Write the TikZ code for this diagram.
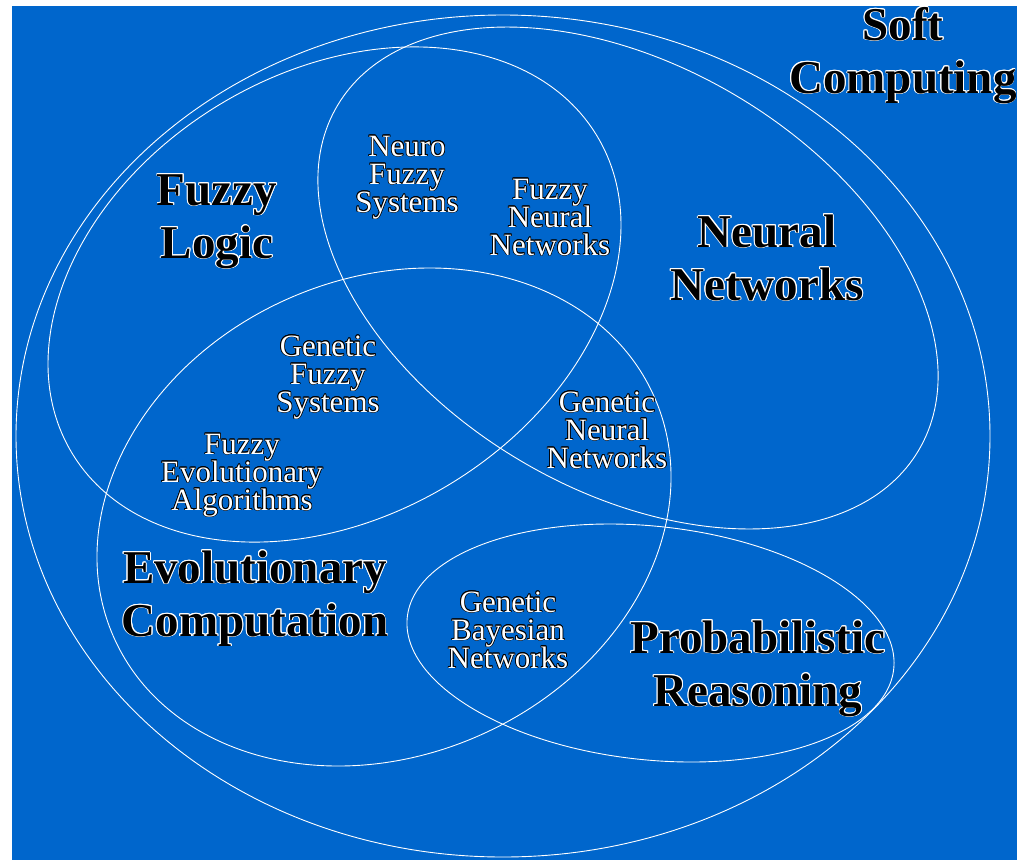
\documentclass[tikz,border=0pt]{standalone}
\usepackage{fontspec}
\setmainfont{Liberation Serif}
\usepackage{contour}
\contournumber{12}
\definecolor{bgblue}{HTML}{0066CC}
\newcommand{\BL}[1]{\smash{\contourlength{0.9pt}\contour{white}{#1}}}
\newcommand{\SL}[1]{\smash{\contourlength{0.7pt}\contour{black}{#1}}}
\newcommand{\Lines}[1]{\begin{tabular}[t]{@{}c@{}}#1\end{tabular}}
\begin{document}
\begin{tikzpicture}[x=1pt,y=-1pt,
  ring/.style={draw=white, line width=0.9pt},
  biglab/.style={font=\fontsize{47}{53}\selectfont\bfseries, text=black, inner sep=0pt, anchor=base},
  smalllab/.style={font=\fontsize{31}{28}\selectfont, text=white, inner sep=0pt, anchor=base}]
\useasboundingbox (0,0) rectangle (1017,860);
\fill[white] (0,0) rectangle (1017,860);
\fill[bgblue] (12,6) rectangle (1017,860);
% Soft Computing
\draw[ring] (503,436) ellipse [x radius=487pt, y radius=421pt];
% Fuzzy Logic
\draw[ring, rotate around={31.2:(334.5,294.5)}] (334.5,294.5) ellipse [x radius=306.7pt, y radius=222pt];
% Neural Networks
\draw[ring, rotate around={-30.7:(628,278)}] (628,278) ellipse [x radius=337.9pt, y radius=212pt];
% Evolutionary Computation
\draw[ring, rotate around={24.2:(384,517)}] (384,517) ellipse [x radius=295.8pt, y radius=238.4pt];
% Probabilistic Reasoning
\draw[ring, rotate around={-6.06:(650.5,643)}] (650.5,643) ellipse [x radius=244.6pt, y radius=116.8pt];
% big labels
\node[biglab] (soft) at (903,40) {\Lines{\BL{Soft}\\\BL{Computing}}};
\node[biglab] (fuzzy) at (217,205) {\Lines{\BL{Fuzzy}\\\BL{Logic}}};
\node[biglab] (neural) at (767,247) {\Lines{\BL{Neural}\\\BL{Networks}}};
\node[biglab] (evo) at (255,583) {\Lines{\BL{Evolutionary}\\\BL{Computation}}};
\node[biglab] (prob) at (758,653) {\Lines{\BL{Probabilistic}\\\BL{Reasoning}}};
% small labels
\node[smalllab] (nfs) at (407,156) {\Lines{\SL{Neuro}\\\SL{Fuzzy}\\\SL{Systems}}};
\node[smalllab] (fnn) at (550,199) {\Lines{\SL{Fuzzy}\\\SL{Neural}\\\SL{Networks}}};
\node[smalllab] (gfs) at (328,356) {\Lines{\SL{Genetic}\\\SL{Fuzzy}\\\SL{Systems}}};
\node[smalllab] (fea) at (242,454) {\Lines{\SL{Fuzzy}\\\SL{Evolutionary}\\\SL{Algorithms}}};
\node[smalllab] (gnn) at (607,412) {\Lines{\SL{Genetic}\\\SL{Neural}\\\SL{Networks}}};
\node[smalllab] (gbn) at (508,612) {\Lines{\SL{Genetic}\\\SL{Bayesian}\\\SL{Networks}}};
\end{tikzpicture}
\end{document}
